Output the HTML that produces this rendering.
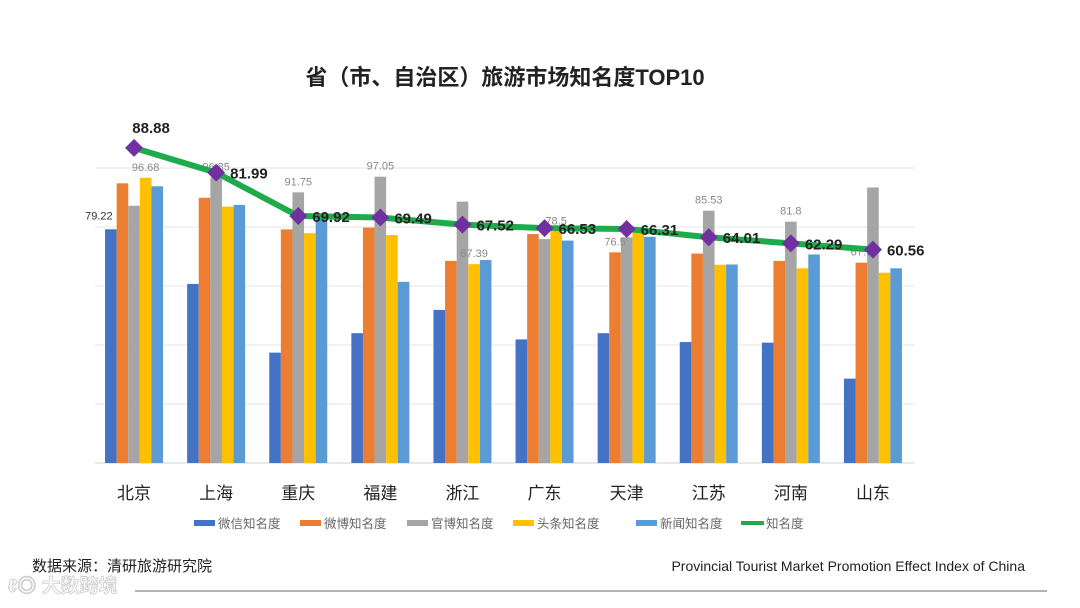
<!DOCTYPE html>
<html><head><meta charset="utf-8">
<style>
body{margin:0;background:#fff;}
svg{display:block;font-family:"Liberation Sans","Noto Sans CJK SC",sans-serif;}
</style></head>
<body>
<svg id="chart" width="1080" height="608" viewBox="0 0 1080 608">
<text x="505" y="85" text-anchor="middle" font-size="22" font-weight="bold" fill="#222">省（市、自治区）旅游市场知名度TOP10</text>
<g id="grid"></g>
<g id="bars"></g>
<g id="line"></g>
<g id="xlabels"></g>
<g id="legend"></g>
<text x="32" y="571" font-size="15" fill="#222">数据来源：清研旅游研究院</text>
<text x="1025" y="571" text-anchor="end" font-size="14" fill="#222">Provincial Tourist Market Promotion Effect Index of China</text>
<line x1="135" y1="591" x2="1047" y2="591" stroke="#888" stroke-width="1.2"/>
<text x="8" y="592" font-size="19" font-weight="bold" fill="#fff" stroke="#ccc" stroke-width="0.8">ℓ◎ 大数跨境</text>
</svg>
<script>
const categories=["北京","上海","重庆","福建","浙江","广东","天津","江苏","河南","山东"];
const weixin=[79.22,60.7,37.4,44,51.9,41.9,44,41,40.8,28.6];
const weibo=[94.8,89.9,79.2,79.8,68.5,77.6,71.4,71,68.5,67.9];
const guanbo=[87.2,96.85,91.75,97.05,88.6,75.9,76.5,85.53,81.8,93.4];
const toutiao=[96.68,86.9,77.9,77.3,67.39,78.5,79,67.2,66,64.5];
const xinwen=[93.8,87.5,83.3,61.4,68.8,75.4,76.7,67.3,70.7,66];
const overall=[88.88,81.99,69.92,69.49,67.52,66.53,66.31,64.01,62.29,60.56];
const seriesNames=["微信知名度","微博知名度","官博知名度","头条知名度","新闻知名度"];
const gridTicks=[0,20,40,60,80,100];
// labels shown on bars: [series index, category index, text]
const barLabels=[[0,0,"79.22"],[3,0,"96.68"],[2,1,"96.85"],[2,2,"91.75"],[2,3,"97.05"],[3,4,"67.39"],[3,5,"78.5"],[1,6,"76.5"],[2,7,"85.53"],[2,8,"81.8"],[1,9,"67.9"]];

const NS="http://www.w3.org/2000/svg";
const colors=["#4472C4","#ED7D31","#A5A5A5","#FFC000","#5B9BD5"];
const x0=93,band=82.1,baseY=463,barW=11.6;
const yB=v=>baseY-v*2.95;
const yL=v=>467-v*3.59;
const xC=i=>x0+band*(i+0.5);
function mk(tag,attrs,parent){const e=document.createElementNS(NS,tag);for(const k in attrs)e.setAttribute(k,attrs[k]);parent.appendChild(e);return e;}
const grid=document.getElementById('grid');
gridTicks.forEach(t=>{
  const l=mk('line',{x1:95,x2:915,y1:yB(t),y2:yB(t),stroke:t===0?'#d0d0d0':'#e6e6e6','stroke-width':1},grid);
  
  
});
const bars=document.getElementById('bars');
const all=[weixin,weibo,guanbo,toutiao,xinwen];
all.forEach((s,si)=>{
  s.forEach((v,i)=>{
    const x=xC(i)-2.5*barW+si*barW;
    const r=mk('rect',{x:x,y:yB(v),width:barW,height:baseY-yB(v),fill:colors[si]},bars);
    
    
  });
});
barLabels.forEach(b=>{
  const [si,i,txt]=b;const v=all[si][i];
  let x=xC(i)-2.5*barW+si*barW+barW/2, y=yB(v)-7;
  if(si===0){x-=12;y=yB(v)-10;}
  const t=mk('text',{x:x,y:y,'text-anchor':'middle','font-size':11,fill:si===0?'#333':'#888'},bars);
  t.textContent=txt;
  
  
});
const lg=document.getElementById('line');
const pts=overall.map((v,i)=>xC(i)+','+yL(v)).join(' ');
const pl=mk('polyline',{points:pts,fill:'none',stroke:'#1FAA4B','stroke-width':6,'stroke-linejoin':'round'},lg);


overall.forEach((v,i)=>{
  const x=xC(i),y=yL(v);
  const d=mk('polygon',{points:`${x},${y-9} ${x+9},${y} ${x},${y+9} ${x-9},${y}`,fill:'#7030A0'},lg);
  
  
  const t=mk('text',{x:i===0?x+17:x+14,y:i===0?y-15:y+6,'text-anchor':i===0?'middle':'start','font-size':15,'font-weight':'bold',fill:'#222'},lg);
  t.textContent=v.toFixed(2);
  
  
});
const xl=document.getElementById('xlabels');
categories.forEach((c,i)=>{
  const t=mk('text',{x:xC(i),y:499,'text-anchor':'middle','font-size':17,fill:'#222'},xl);
  t.textContent=c;
  
  
});
const leg=document.getElementById('legend');
const lx=[194,300,407,513,636];
seriesNames.forEach((n,si)=>{
  const r=mk('rect',{x:lx[si],y:520,width:21,height:6,fill:colors[si]},leg);
  
  
  const t=mk('text',{x:lx[si]+24,y:528,'font-size':12.5,fill:'#666'},leg);
  t.textContent=n;
  
  
});
const gl=mk('line',{x1:741,x2:764,y1:523,y2:523,stroke:'#1FAA4B','stroke-width':4},leg);


const gt=mk('text',{x:766,y:528,'font-size':12.5,fill:'#666'},leg);
gt.textContent='知名度';


</script>
</body></html>
